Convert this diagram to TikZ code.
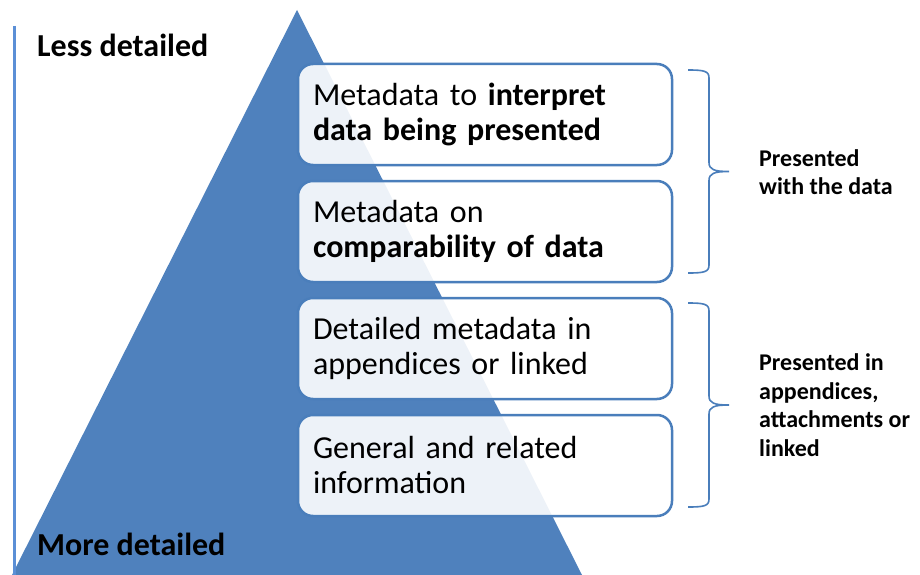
\documentclass[tikz,border=0pt]{standalone}
\usepackage{fontspec}
\setmainfont{Carlito}
\usetikzlibrary{positioning}
\definecolor{triblue}{HTML}{4F81BD}
\definecolor{edgeblue}{HTML}{4A7EBB}
\definecolor{lineblue}{HTML}{5B8FD6}
\tikzset{box/.style={draw=edgeblue,line width=2.5pt,rounded corners=15pt,fill=white,fill opacity=.9,text opacity=1,minimum width=374pt,minimum height=101pt,text width=344pt,align=left,inner sep=0pt,font=\fontsize{32}{35}\selectfont},brc/.style={draw=edgeblue,line width=1.6pt},lab/.style={anchor=west,align=left,inner sep=0pt,font=\fontsize{24}{28.5}\selectfont\bfseries},ends/.style={anchor=west,inner sep=0pt,font=\fontsize{32}{38}\selectfont\bfseries}}

\begin{document}
\begin{tikzpicture}[x=1pt,y=-1pt]
\path[use as bounding box] (0,0) rectangle (920,575);
\fill[triblue] (297,10) -- (582,575) -- (12,575) -- cycle;
\draw[lineblue,line width=3pt] (14,26) -- (14,575);
\node[ends] (less) at (37,45) {Less detailed};
\node[ends] (more) at (37,544) {More detailed};
\node[box] (m1) at (485,114.5) {Metadata to \textbf{interpret}\\\textbf{data being presented}};
\node[box,below=13.5pt of m1] (m2) {Metadata on\\\textbf{comparability of data}};
\node[box,below=13.5pt of m2] (m3) {Detailed metadata in\\appendices or linked};
\node[box,below=13.5pt of m3] (m4) {General and related\\information};
% braces
\foreach \ya/\yb [evaluate=\ya as \ym using (\ya+\yb)/2] in {70/273,303/507}{
\draw[brc] (688,\ya) .. controls (704,\ya) and (709,\ya+1) .. (709,\ya+8) -- (709,\ym-9) .. controls (709,\ym-2) and (714,\ym) .. (729,\ym) .. controls (714,\ym) and (709,\ym+2) .. (709,\ym+9) -- (709,\yb-8) .. controls (709,\yb-1) and (704,\yb) .. (688,\yb);
}
\node[lab] (with) at (759,172) {Presented\\with the data};
\node[lab] (appx) at (759,405) {Presented in\\appendices,\\attachments or\\linked};
\end{tikzpicture}
\end{document}
